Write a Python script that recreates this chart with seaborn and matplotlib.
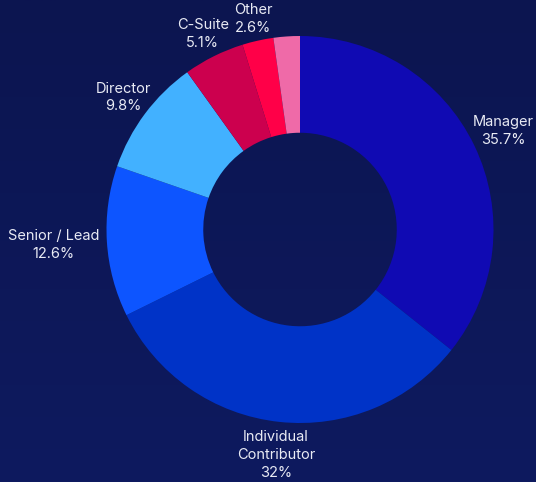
import numpy as np
import seaborn as sns
import matplotlib.pyplot as plt
from matplotlib.colors import LinearSegmentedColormap

# data (clockwise from 12 o'clock)
categories = ["Manager", "Individual\nContributor", "Senior / Lead", "Director", "C-Suite", "Other", ""]
shares = [35.7, 32.0, 12.6, 9.8, 5.1, 2.6, 2.2]
pct_labels = ["35.7%", "32%", "12.6%", "9.8%", "5.1%", "2.6%", ""]

colors = ["#100ab3", "#0033c7", "#0d55ff", "#42b1ff", "#cc004e", "#ff0048", "#ef6aa8"]
label_dist = [1.168, 1.172, 1.275, 1.141, 1.128, 1.114, 1.11]

BG_TOP = "#0c1550"
BG_BOT = "#0e1a5f"
TEXT = "#e8eaf4"

sns.set_style("white")
plt.rcParams["font.family"] = ["Inter", "DejaVu Sans"]

W, H = 536, 482
fig = plt.figure(figsize=(W / 100, H / 100), dpi=100)

# background gradient
bg = fig.add_axes([0, 0, 1, 1])
grad = np.linspace(0, 1, 256).reshape(-1, 1)
cmap = LinearSegmentedColormap.from_list("bg", [BG_TOP, BG_BOT])
bg.imshow(grad, aspect="auto", cmap=cmap, extent=[0, 1, 0, 1], origin="upper")
bg.set_axis_off()

ax = fig.add_axes([0, 0, 1, 1])
ax.set_facecolor("none")

# ring centre / radius in pixels
cx, cy, R = 300.0, 229.5, 193.5

wedges, _ = ax.pie(
    shares,
    colors=colors,
    startangle=90,
    counterclock=False,
    radius=1.0,
    wedgeprops=dict(width=0.5, edgecolor="none", linewidth=0),
)
ax.set_aspect("auto")
ax.set_xlim(-cx / R, (W - cx) / R)
ax.set_ylim(-(H - cy) / R, cy / R)

for w, name, pct, d in zip(wedges, categories, pct_labels, label_dist):
    if not name:
        continue
    ang = np.deg2rad((w.theta1 + w.theta2) / 2)
    ax.text(
        d * np.cos(ang),
        d * np.sin(ang),
        f"{name}\n{pct}",
        ha="center",
        va="center",
        color=TEXT,
        fontsize=10.5,
        linespacing=1.35,
        multialignment="center",
    )

ax.set_axis_off()
fig.savefig("out.png", dpi=100, facecolor=BG_TOP)
